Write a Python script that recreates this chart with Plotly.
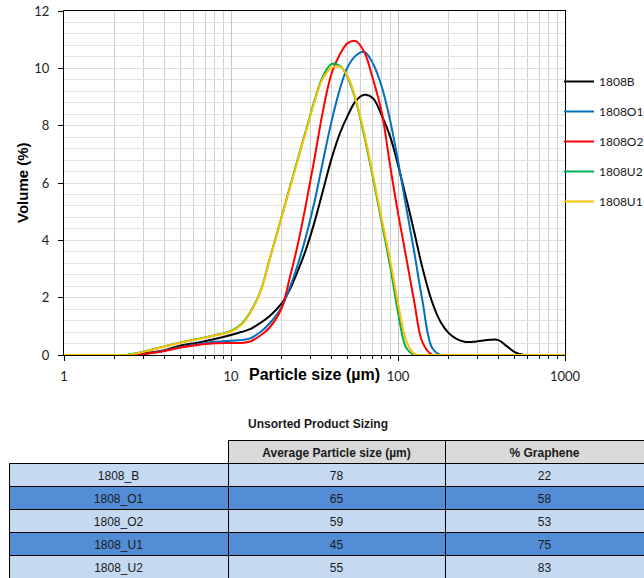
import plotly.graph_objects as go

# ---------------- data ----------------
sizes = [1, 2, 2.4, 2.8, 3.2, 4, 5, 6.3, 8, 10, 11.5, 13, 15, 17, 20, 22.5, 25, 28, 31.5, 35.5,
         40, 45, 50, 56, 63, 71, 80, 90, 100, 112, 125, 140, 160, 180, 200, 224, 250, 280, 315, 355,
         400, 450, 500, 560, 630, 1000]

vol_1808B = [0, 0, 0.0, 0.04, 0.08, 0.17, 0.33, 0.43, 0.56, 0.7, 0.8, 0.9, 1.12, 1.35, 1.78, 2.28, 2.9, 3.65, 4.6, 5.72,
             6.85, 7.75, 8.35, 8.87, 9.08, 8.95, 8.35, 7.6, 6.63, 5.47, 4.3, 3.05, 1.85, 1.15, 0.78, 0.56, 0.46, 0.46, 0.5, 0.53,
             0.52, 0.3, 0.1, 0.01, 0, 0]
vol_1808O1 = [0, 0, 0, 0.01, 0.05, 0.15, 0.28, 0.37, 0.46, 0.5, 0.52, 0.58, 0.8, 1.1, 1.65, 2.35, 3.12, 4.1, 5.3, 6.75,
              8.15, 9.3, 10.05, 10.45, 10.57, 10.15, 9.35, 8.15, 6.78, 5.15, 3.6, 1.9, 0.25, 0, 0, 0, 0, 0, 0, 0,
              0, 0, 0, 0, 0, 0]
vol_1808O2 = [0, 0, 0, 0, 0.05, 0.14, 0.26, 0.35, 0.41, 0.42, 0.42, 0.47, 0.68, 0.95, 1.6, 2.7, 3.8, 5.2, 6.8, 8.5,
              9.82, 10.5, 10.88, 10.95, 10.55, 9.6, 8.45, 6.55, 4.95, 3.4, 1.87, 0.45, 0.01, 0, 0, 0, 0, 0, 0, 0,
              0, 0, 0, 0, 0, 0]
vol_1808U2 = [0, 0, 0.01, 0.08, 0.16, 0.3, 0.44, 0.56, 0.69, 0.84, 1.07, 1.48, 2.22, 3.33, 4.78, 5.85, 6.8, 7.8, 8.85, 9.72,
              10.15, 10.08, 9.68, 8.85, 7.6, 6.15, 4.6, 3.05, 1.5, 0.25, 0, 0, 0, 0, 0, 0, 0, 0, 0, 0,
              0, 0, 0, 0, 0, 0]
vol_1808U1 = [0, 0, 0.0, 0.07, 0.15, 0.29, 0.43, 0.55, 0.68, 0.82, 1.05, 1.45, 2.2, 3.3, 4.75, 5.8, 6.75, 7.75, 8.8, 9.65,
              10.02, 10.05, 9.72, 8.9, 7.7, 6.25, 4.73, 3.27, 1.82, 0.5, 0.04, 0, 0, 0, 0, 0, 0, 0, 0, 0,
              0, 0, 0, 0, 0, 0]

series_names = ["1808B", "1808O1", "1808O2", "1808U2", "1808U1"]
series_values = [vol_1808B, vol_1808O1, vol_1808O2, vol_1808U2, vol_1808U1]
series_colors = ["#000000", "#0070C0", "#FF0000", "#00B050", "#FFC000"]

x_tick_vals = [1, 10, 100, 1000]
x_tick_text = ["1", "10", "100", "1000"]

table_title = "Unsorted Product Sizing"
table_headers = ["", "Average Particle size (µm)", "% Graphene"]
samples = ["1808_B", "1808_O1", "1808_O2", "1808_U1", "1808_U2"]
avg_size = [78, 65, 59, 45, 55]
graphene_pct = [22, 58, 53, 75, 83]

# ---------------- figure ----------------
W, H = 644, 578


def fx(px):
    return px / W


def fy(py):
    return 1 - py / H


fig = go.Figure()

for name, vals, col in zip(series_names, series_values, series_colors):
    fig.add_trace(go.Scatter(
        x=sizes, y=vals, name=name, mode="lines",
        line=dict(color=col, width=2, shape="spline", smoothing=1.0),
        legendgroup=name, hoverinfo="skip"))

TABLE_FONT = "Liberation Sans Narrow, Arial Narrow, Liberation Sans, Arial"
row_fill = ["#C5D9F1", "#538DD5", "#C5D9F1", "#538DD5", "#C5D9F1"]
fig.add_trace(go.Table(
    domain=dict(x=[fx(9), 1.0], y=[0, fy(440)]),
    columnwidth=[219, 217, 199],
    header=dict(values=table_headers,
                fill=dict(color=["white", "#D9D9D9", "#D9D9D9"]),
                line=dict(color=["rgba(0,0,0,0)", "black", "black"], width=1),
                font=dict(family=TABLE_FONT, size=12, color="#1a1a1a", weight="bold"),
                align="center", height=23),
    cells=dict(values=[samples, avg_size, graphene_pct],
               fill=dict(color=[row_fill, row_fill, row_fill]),
               line=dict(color="black", width=1),
               font=dict(family=TABLE_FONT, size=12, color="#1a1a1a"),
               align="center", height=23),
))

fig.update_layout(
    width=W, height=H,
    margin=dict(l=0, r=0, t=0, b=0, autoexpand=False),
    paper_bgcolor="white", plot_bgcolor="white",
    font=dict(family="Lato, Open Sans, sans-serif", color="#222"),
    showlegend=True,
    legend=dict(x=fx(559), y=fy(67), xanchor="left", yanchor="top",
                font=dict(family="Lato, sans-serif", size=12, color="#1a1a1a"),
                tracegroupgap=11, bgcolor="rgba(0,0,0,0)", itemwidth=30),
    xaxis=dict(type="log", range=[0, 3], domain=[fx(64), fx(565)],
               tickvals=x_tick_vals, ticktext=x_tick_text,
               ticks="outside", ticklen=5, tickcolor="black", tickwidth=1,
               tickfont=dict(family="Lato, sans-serif", size=13, color="#222"),
               ticklabelstandoff=4, automargin=False, ticklabeloverflow="allow",
               showline=True, linecolor="black", linewidth=1.3, mirror=True,
               showgrid=True, gridcolor="#C6C6C6", gridwidth=1,
               minor=dict(dtick="D1", showgrid=True, gridcolor="#CFCFCF", gridwidth=1,
                          ticks="outside", ticklen=3, tickcolor="black"),
               zeroline=False, anchor="y"),
    yaxis=dict(range=[0, 12], dtick=2, domain=[fy(355), fy(11)],
               ticks="outside", ticklen=5, tickcolor="black", tickwidth=1,
               tickfont=dict(family="Lato, sans-serif", size=13, color="#222"),
               ticklabelstandoff=6, automargin=False, ticklabeloverflow="allow",
               showline=True, linecolor="black", linewidth=1.3, mirror=True,
               showgrid=True, gridcolor="#DCDCDC", gridwidth=1,
               minor=dict(dtick=0.4, showgrid=True, gridcolor="#E3E3E3", gridwidth=1),
               zeroline=False, anchor="x"),
    annotations=[
        dict(text="<b>Particle size (µm)</b>", xref="paper", yref="paper",
             x=fx(314), y=fy(375), xanchor="center", yanchor="middle", showarrow=False,
             font=dict(family="Liberation Sans, Arial", size=16, color="black")),
        dict(text="<b>Volume (%)</b>", xref="paper", yref="paper", textangle=-90,
             x=fx(22), y=fy(183), xanchor="center", yanchor="middle", showarrow=False,
             font=dict(family="Liberation Sans, Arial", size=15, color="black")),
        dict(text=f"<b>{table_title}</b>", xref="paper", yref="paper",
             x=fx(318), y=fy(424), xanchor="center", yanchor="middle", showarrow=False,
             font=dict(family=TABLE_FONT, size=12, color="#1a1a1a")),
    ],
)

# remove the browser's default 8px page margin so the figure sits at the window origin
fig.write_html("out.html", config={"displayModeBar": False},
               post_script="document.body.style.margin='0';")
